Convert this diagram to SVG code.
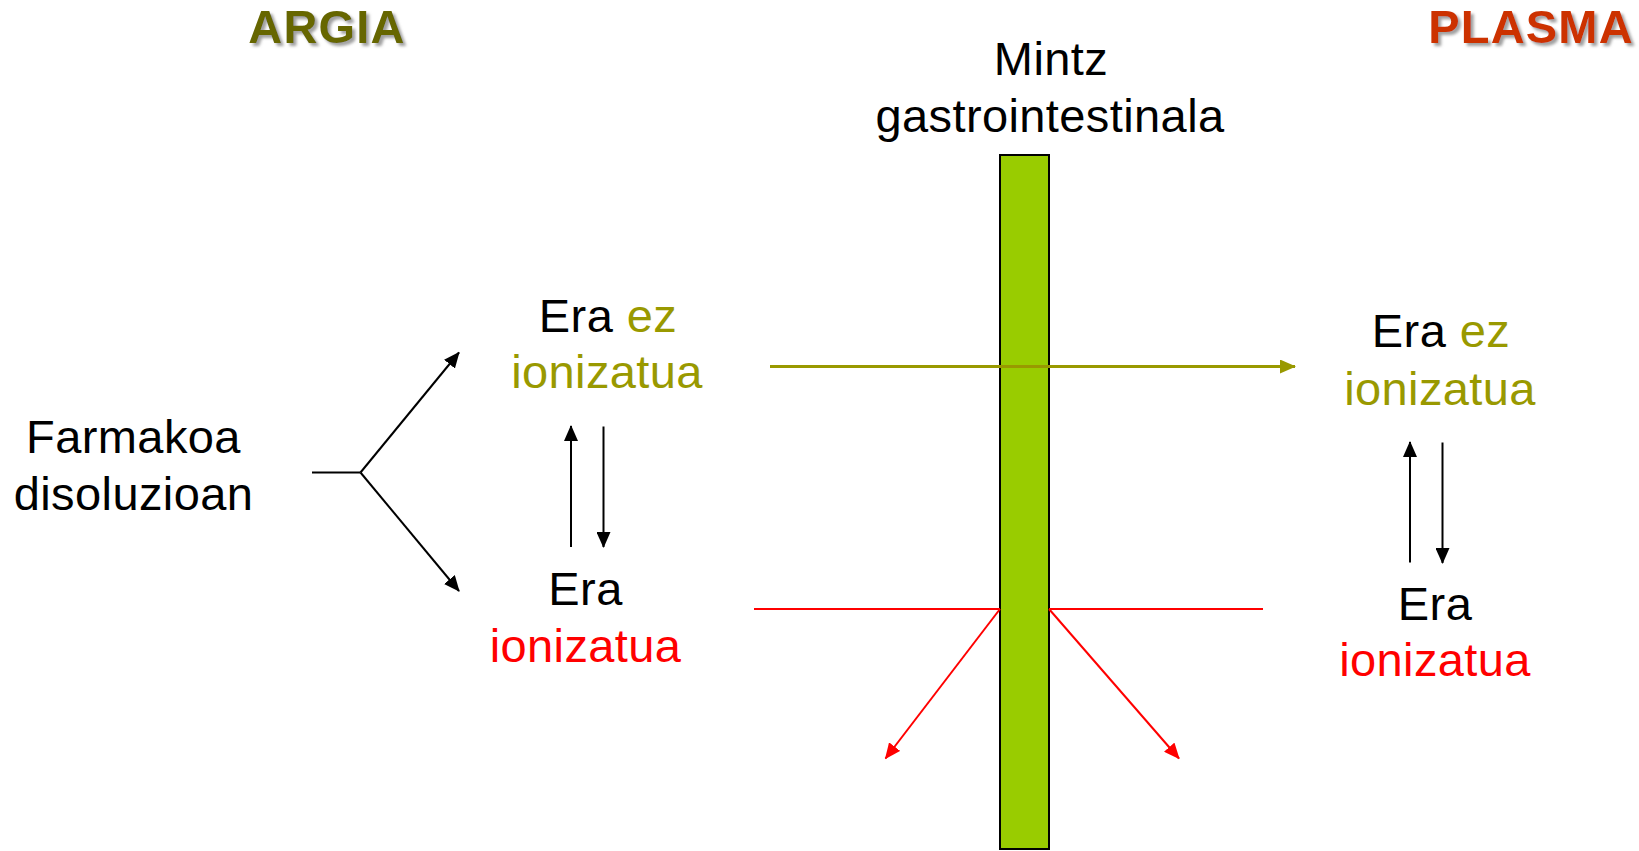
<svg xmlns="http://www.w3.org/2000/svg" width="1639" height="851" viewBox="0 0 1639 851">
  <style>
    .t { font-family: "Liberation Sans", Arial, sans-serif; font-size: 47px; letter-spacing: 0.4px; fill: #000000; text-anchor: middle; }
    .olive { fill: #999900; }
    .red { fill: #FF0000; }
    .title { font-family: "Liberation Sans", Arial, sans-serif; font-size: 47px; letter-spacing: 1.2px; font-weight: bold; text-anchor: middle; }
    .blk { stroke: #000000; stroke-width: 2; fill: none; }
    .oln { stroke: #999900; stroke-width: 3; fill: none; }
    .rdn { stroke: #FF0000; stroke-width: 2; fill: none; }
  </style>
  <defs>
    <filter id="shadow" x="-10%" y="-20%" width="130%" height="150%">
      <feDropShadow dx="3" dy="3" stdDeviation="1.8" flood-color="#808080" flood-opacity="0.75"/>
    </filter>
    <marker id="ahBlack" markerWidth="16" markerHeight="14" refX="15" refY="7" orient="auto" markerUnits="userSpaceOnUse">
      <path d="M0,0 L16,7 L0,14 Z" fill="#000000"/>
    </marker>
    <marker id="ahOlive" markerWidth="16" markerHeight="14" refX="15" refY="7" orient="auto" markerUnits="userSpaceOnUse">
      <path d="M0,0 L16,7 L0,14 Z" fill="#999900"/>
    </marker>
    <marker id="ahRed" markerWidth="16" markerHeight="14" refX="15" refY="7" orient="auto" markerUnits="userSpaceOnUse">
      <path d="M0,0 L16,7 L0,14 Z" fill="#FF0000"/>
    </marker>
  </defs>

  <rect width="1639" height="851" fill="#FFFFFF"/>

  <!-- compartment titles -->
  <g id="title-argia">
    <text class="title" x="327" y="43" fill="#666600" filter="url(#shadow)">ARGIA</text>
  </g>
  <g id="title-plasma">
    <text class="title" x="1531" y="43" fill="#CC3300" filter="url(#shadow)">PLASMA</text>
  </g>

  <!-- membrane -->
  <g id="membrane">
    <text class="t" x="1051" y="75">Mintz</text>
    <text class="t" x="1050" y="132">gastrointestinala</text>
    <rect x="1000" y="155" width="49" height="694" fill="#99CC00" stroke="#000000" stroke-width="2"/>
  </g>

  <!-- connectors -->
  <g id="connectors">
    <!-- dissolved drug splits into two forms -->
    <polyline class="blk" points="312,472.5 360.5,472.5"/>
    <line class="blk" x1="360.5" y1="472.5" x2="459" y2="352.5" marker-end="url(#ahBlack)"/>
    <line class="blk" x1="360.5" y1="472.5" x2="459" y2="591" marker-end="url(#ahBlack)"/>
    <!-- lumen equilibrium -->
    <line class="blk" x1="571" y1="547" x2="571" y2="426" marker-end="url(#ahBlack)"/>
    <line class="blk" x1="603.5" y1="426.5" x2="603.5" y2="547" marker-end="url(#ahBlack)"/>
    <!-- plasma equilibrium -->
    <line class="blk" x1="1410" y1="562.5" x2="1410" y2="442" marker-end="url(#ahBlack)"/>
    <line class="blk" x1="1442.5" y1="442.5" x2="1442.5" y2="563" marker-end="url(#ahBlack)"/>
    <!-- non-ionized form crosses the membrane -->
    <line class="oln" x1="770" y1="366.5" x2="1295" y2="366.5" marker-end="url(#ahOlive)"/>
    <!-- ionized form is blocked -->
    <line class="rdn" x1="754" y1="609" x2="1000" y2="609"/>
    <line class="rdn" x1="1049" y1="609" x2="1263" y2="609"/>
    <line class="rdn" x1="1000" y1="609" x2="885.5" y2="758.5" marker-end="url(#ahRed)"/>
    <line class="rdn" x1="1049" y1="609" x2="1179" y2="758.5" marker-end="url(#ahRed)"/>
  </g>

  <g id="drug-solution">
    <text class="t" x="133.5" y="452.5">Farmakoa</text>
    <text class="t" x="133.5" y="510">disoluzioan</text>
  </g>

  <g id="lumen-nonionized">
    <text class="t" x="608" y="331.5">Era <tspan class="olive">ez</tspan></text>
    <text class="t olive" x="607" y="388">ionizatua</text>
  </g>

  <g id="lumen-ionized">
    <text class="t" x="585.5" y="604.5">Era</text>
    <text class="t red" x="585.5" y="662">ionizatua</text>
  </g>

  <g id="plasma-nonionized">
    <text class="t" x="1441" y="347">Era <tspan class="olive">ez</tspan></text>
    <text class="t olive" x="1440" y="404.5">ionizatua</text>
  </g>

  <g id="plasma-ionized">
    <text class="t" x="1435" y="620">Era</text>
    <text class="t red" x="1435" y="676">ionizatua</text>
  </g>
</svg>
